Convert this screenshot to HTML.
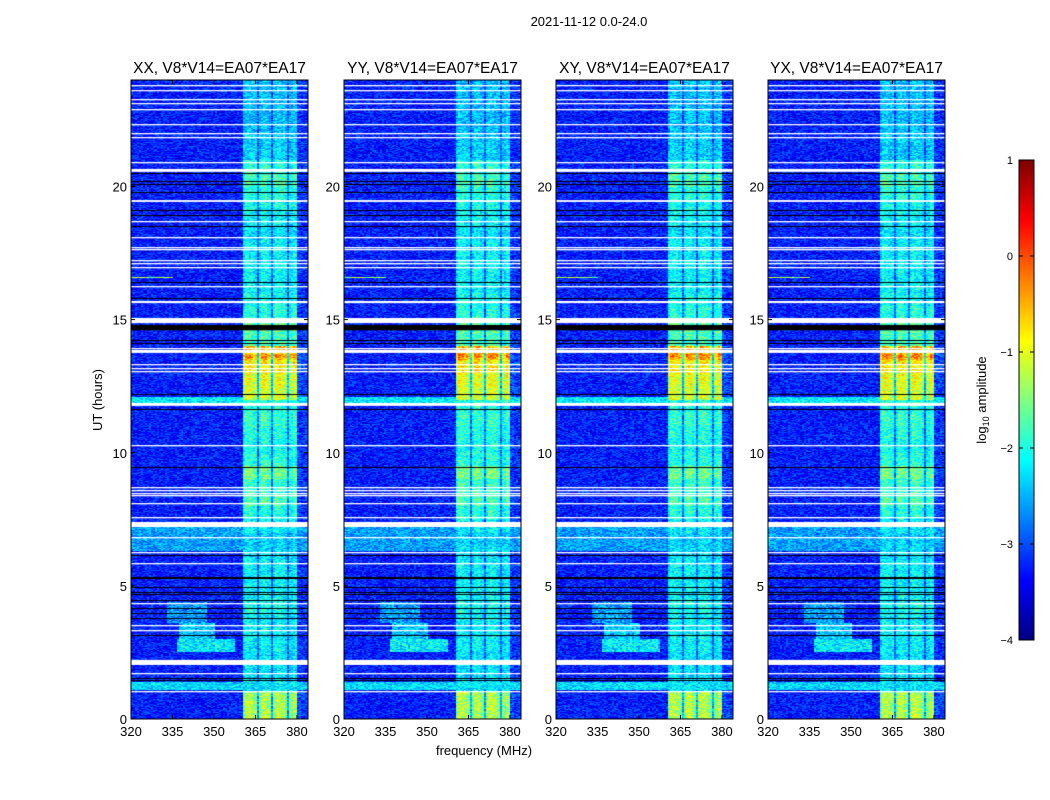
<!DOCTYPE html>
<html><head><meta charset="utf-8">
<style>
body{margin:0;background:#fff;width:1050px;height:800px;overflow:hidden;font-family:"Liberation Sans",sans-serif;}
#wrap{position:relative;width:1050px;height:800px;}
canvas{position:absolute;}
svg{position:absolute;left:0;top:0;}
</style></head><body>
<div id="wrap">
<canvas id="cb" width="15" height="480" style="left:1019px;top:160px"></canvas>
<svg id="ov" width="1050" height="800"></svg>
</div>
<script>
// ---- data ----
const panelTitles=["XX, V8*V14=EA07*EA17","YY, V8*V14=EA07*EA17","XY, V8*V14=EA07*EA17","YX, V8*V14=EA07*EA17"];
const xTicks=[320,335,350,365,380];
const yTicks=[0,5,10,15,20];
const cbTicks=[1,0,-1,-2,-3,-4];
// band gain per 1 MHz channel from 320 to 383
const freqProfile=[0,0,0,0,0,0,0,0,0,0, 0,0,0,0,0,0,0,0,0,0, 0,0,0,0,0,0,0,0,0,0, 0,0,0,0,0,0,0,0,0,0,
 0.85,1,1,0.95,0.9,0.35,0.85,1,1,0.9,0.35,0.9,1,1,0.95,0.85,0.35,0.85,1,0.95,0.12,0.08,0.08,0.08];
// band level (log10 amp) per half hour from 0 to 24h
const bandLevel=[-1.2,-1.2,-2.2,-2.2,-2.2,-2.1,-2.1,-2.1,-2.0,-2.1,-2.1,-2.1,-2.2,-2.3,-2.1,-1.9,
 -1.7,-1.8,-1.5,-1.9,-2.0,-1.9,-1.8,-1.9,-1.0,-0.9,-0.7,-0.4,-1.7,-1.6,-1.9,-2.0,
 -2.1,-2.1,-2.1,-2.1,-2.2,-2.1,-2.0,-1.9,-1.7,-1.9,-2.3,-2.3,-2.4,-2.4,-2.4,-2.4];
const bgLevel=-3.25;
// full-width stripes [t0,t1,value]
const fullRows=[[1.1,1.4,-2.3],[6.3,7.2,-2.6],[11.87,12.1,-2.2]];
// band-only highlight rows [t0,t1,value]
const bandRows=[[13.55,13.7,-0.2]];
// localized blobs [t0,t1,f0,f1,value]
const blobs=[[2.5,3.0,336,357,-2.2],[3.0,3.6,337,350,-2.4],[3.6,4.4,333,347,-2.6],[16.55,16.6,320,335,-1.3]];
const whiteRows=[23.81,23.62,23.29,23.14,22.91,22.35,22.01,21.86,20.92,18.70,18.10,17.73,17.65,17.24,17.13,16.98,16.26,13.93,13.33,13.18,13.07,10.29,8.71,8.60,8.49,8.41,8.11,7.59,6.84,6.27,5.86,4.36,3.53,3.34,1.73,1.05];
const whiteBands=[[20.55,20.66],[19.42,19.49],[15.62,15.70],[14.87,15.06],[13.75,13.86],[11.76,11.87],[7.21,7.40],[2.03,2.22]];
const blackRows=[20.51,20.2,20.1,19.79,19.12,18.93,18.52,16.41,15.81,14.24,14.12,12.21,11.64,9.46,6.16,5.33,5.30,4.96,4.77,4.69,4.47,4.17,3.98,3.79,3.15,1.54,1.46];
const blackBands=[[14.6,14.8]];

// ---- layout ----
const panelX=[131,344,556,768], PW=177, PT=80, PB=719;
const F0=320, F1=384, T0=0, T1=24;
const xs=(f,i)=>panelX[i]+(f-F0)/(F1-F0)*PW;
const ys=t=>PB-(t-T0)/(T1-T0)*(PB-PT);
function jet(v){let n=(v+4)/5;n=Math.max(0,Math.min(1,n));const c=x=>Math.round(255*Math.max(0,Math.min(1,x)));
 return [c(1.5-Math.abs(4*n-3)),c(1.5-Math.abs(4*n-2)),c(1.5-Math.abs(4*n-1))];}
function hash(a,b,c){let h=(a*374761393+b*668265263+c*2147483647)|0;h=(h^(h>>>13))*1274126177|0;return ((h^(h>>>16))>>>0)/4294967296;}
const wrap=document.getElementById('wrap');
panelX.forEach((px,p)=>{
 const cv=document.createElement('canvas');
 cv.width=PW;cv.height=PB-PT;cv.style.left=px+'px';cv.style.top=PT+'px';
 
 
 wrap.insertBefore(cv,wrap.firstChild);
 const ctx=cv.getContext('2d');
 const H=PB-PT;
 for(let r=0;r<H;r++){
  const t=T1-(r+0.5)/H*(T1-T0);
  const bi=Math.min(bandLevel.length-1,Math.floor(t/0.5));
  let bl=bandLevel[bi];
  bandRows.forEach(b=>{if(t>=b[0]&&t<b[1])bl=b[2];});
  for(let x=0;x<PW;x+=2){
   const f=F0+x/PW*(F1-F0);const k=Math.floor(f-F0);
   let v=bgLevel+freqProfile[k]*(bl-bgLevel);
   fullRows.forEach(fr=>{if(t>=fr[0]&&t<fr[1])v=Math.max(v,fr[2]);});
   blobs.forEach(b=>{if(t>=b[0]&&t<b[1]&&f>=b[2]&&f<b[3])v=Math.max(v,b[4]+(hash(r,x,7)-0.5)*0.5);});
   v+=(hash(r,x,p)-0.5)*0.8;
   const c=jet(v);ctx.fillStyle='rgb('+c[0]+','+c[1]+','+c[2]+')';
   ctx.fillRect(x,r,2,1);
  }
 }
 const ty=t=>(T1-t)/(T1-T0)*H;
 ctx.fillStyle='#000';
 blackBands.forEach(b=>ctx.fillRect(0,ty(b[1]),PW,ty(b[0])-ty(b[1])));
 blackRows.forEach(t=>ctx.fillRect(0,Math.round(ty(t)),PW,1));
 ctx.fillStyle='#fff';
 whiteBands.forEach(b=>ctx.fillRect(0,ty(b[1]),PW,ty(b[0])-ty(b[1])));
 whiteRows.forEach(t=>ctx.fillRect(0,Math.round(ty(t)),PW,1.3));
});
// colorbar
const cb=document.getElementById('cb').getContext('2d');
for(let r=0;r<480;r++){const c=jet(1-r/480*5);cb.fillStyle='rgb('+c+')';cb.fillRect(0,r,15,1);}
// overlay
const svg=document.getElementById('ov');const NS='http://www.w3.org/2000/svg';
function el(tag,attrs,txt){const e=document.createElementNS(NS,tag);for(const k in attrs)e.setAttribute(k,attrs[k]);if(txt!==undefined)e.textContent=txt;svg.appendChild(e);return e;}
let e=el('text',{x:589,y:26,'font-size':13,'text-anchor':'middle'},'2021-11-12 0.0-24.0');


panelX.forEach((px,p)=>{
 let r=el('rect',{x:px,y:PT,width:PW,height:PB-PT,fill:'none',stroke:'#000','stroke-width':1});
 
 
 let t=el('text',{x:px+PW/2,y:73,'font-size':15.5,'text-anchor':'middle'},panelTitles[p]);
 
 
 xTicks.forEach(f=>{const x=xs(f,p);
  el('line',{x1:x,x2:x,y1:PB,y2:PB-4,stroke:'#000'});el('line',{x1:x,x2:x,y1:PT,y2:PT+4,stroke:'#000'});
  let l=el('text',{x:x,y:PB+17,'font-size':13,'text-anchor':'middle'},String(f));
  
  
 });
 yTicks.forEach(v=>{const y=ys(v);
  el('line',{x1:px,x2:px+4,y1:y,y2:y,stroke:'#000'});el('line',{x1:px+PW,x2:px+PW-4,y1:y,y2:y,stroke:'#000'});
  let l=el('text',{x:px-4,y:y+5,'font-size':13,'text-anchor':'end'},String(v));
  
  
 });
});
e=el('text',{x:102,y:400,'font-size':13,'text-anchor':'middle',transform:'rotate(-90 102 400)'},'UT (hours)');


e=el('text',{x:484,y:755,'font-size':13,'text-anchor':'middle'},'frequency (MHz)');


el('rect',{x:1019,y:160,width:15,height:480,fill:'none',stroke:'#000'});
cbTicks.forEach(v=>{const y=160+(1-v)/5*480;
 el('line',{x1:1019,x2:1023,y1:y,y2:y,stroke:'#000'});el('line',{x1:1034,x2:1030,y1:y,y2:y,stroke:'#000'});
 let l=el('text',{x:1013,y:y+4,'font-size':11,'text-anchor':'end'},(v<0?'\u2212':'')+Math.abs(v));
 
 
});
e=el('text',{x:986,y:400,'font-size':13,'text-anchor':'middle',transform:'rotate(-90 986 400)'});
e.innerHTML='log<tspan font-size="9" dy="3">10</tspan><tspan dy="-3"> amplitude</tspan>';


</script>
</body></html>
